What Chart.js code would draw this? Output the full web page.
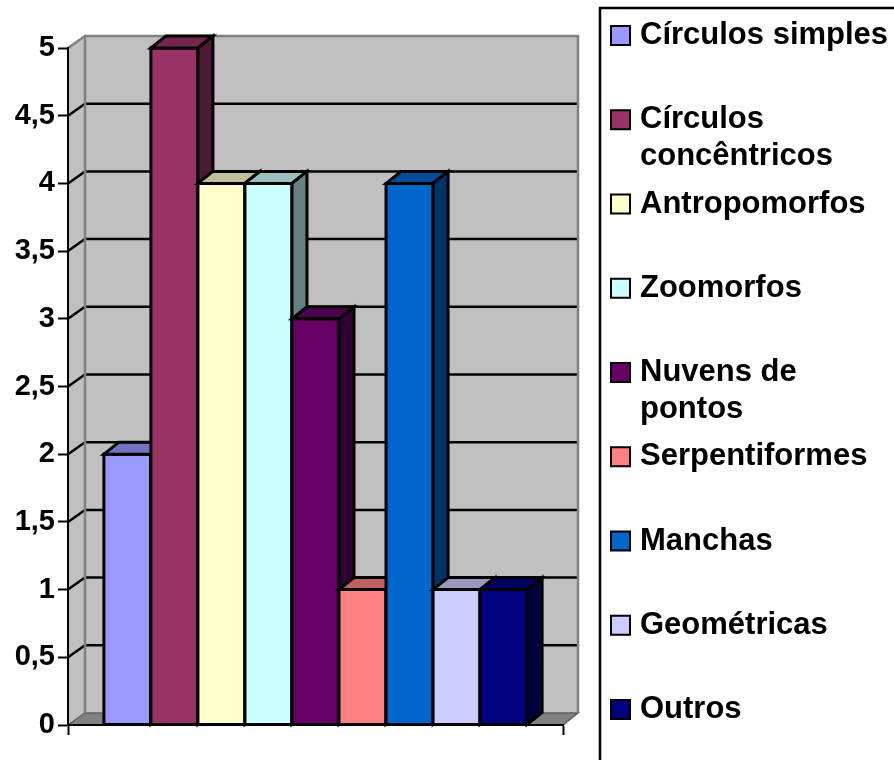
<!DOCTYPE html>
<html>
<head>
<meta charset="utf-8">
<script src="https://cdn.jsdelivr.net/npm/chart.js@4"></script>
<style>
  html, body { margin: 0; padding: 0; background: #fff; overflow: hidden; }
  #wrap { position: relative; width: 894px; height: 760px; }
</style>
</head>
<body>
<div id="wrap"><canvas id="chart"></canvas></div>
<script>
// series names, values and colours
const categories = ['Círculos simples', 'Círculos concêntricos', 'Antropomorfos', 'Zoomorfos',
    'Nuvens de pontos', 'Serpentiformes', 'Manchas', 'Geométricas', 'Outros'];
const counts = [2, 5, 4, 4, 3, 1, 4, 1, 1];
const colors = ['#9999FF', '#993366', '#FFFFCC', '#CCFFFF', '#660066', '#FF8080', '#0066CC', '#CCCCFF', '#000080'];
const yMin = 0;
const yMax = 5;
const yStep = 0.5;

const FONT = '"Liberation Sans", Arial, Helvetica, sans-serif';
Chart.defaults.font.family = FONT;

// 3d offsets
const wallDxL = 17, wallDxR = 15, wallDy = -12;
const barDx = 15, barDy = -12;

function shade(hex, f) {
    const n = parseInt(hex.slice(1), 16);
    const r = Math.round(((n >> 16) & 255) * f);
    const g = Math.round(((n >> 8) & 255) * f);
    const b = Math.round((n & 255) * f);
    return 'rgb(' + r + ',' + g + ',' + b + ')';
}

function poly(ctx, pts, fill, stroke, lw) {
    ctx.beginPath();
    ctx.moveTo(pts[0][0], pts[0][1]);
    for (let i = 1; i < pts.length; i++) ctx.lineTo(pts[i][0], pts[i][1]);
    ctx.closePath();
    if (fill) { ctx.fillStyle = fill; ctx.fill(); }
    if (stroke) { ctx.strokeStyle = stroke; ctx.lineWidth = lw; ctx.stroke(); }
}

const wallsPlugin = {
    id: 'walls',
    beforeDraw(chart) {
        const ctx = chart.ctx;
        const { left, right, top, bottom } = chart.chartArea;
        const ys = chart.scales.y;
        const bl = left + wallDxL, br = right + wallDxR;
        ctx.save();
        // side wall, back wall, floor
        poly(ctx, [[left, top], [bl, top + wallDy], [bl, bottom + wallDy], [left, bottom]], '#C0C0C0');
        ctx.fillStyle = '#C0C0C0';
        ctx.fillRect(bl, top + wallDy, br - bl, bottom - top);
        poly(ctx, [[left, bottom], [right, bottom], [br, bottom + wallDy], [bl, bottom + wallDy]], '#808080', '#606060', 1.5);
        // gridlines on the walls
        ctx.strokeStyle = '#000';
        ctx.lineWidth = 2.5;
        for (let v = yMin + yStep; v < yMax - 1e-9; v += yStep) {
            const y = ys.getPixelForValue(v);
            ctx.beginPath();
            ctx.moveTo(left, y);
            ctx.lineTo(bl, y + wallDy);
            ctx.lineTo(br, y + wallDy);
            ctx.stroke();
        }
        // grey edges
        ctx.strokeStyle = '#808080';
        ctx.lineWidth = 2.5;
        ctx.beginPath();
        ctx.moveTo(left, top);
        ctx.lineTo(bl, top + wallDy);
        ctx.lineTo(br, top + wallDy);
        ctx.lineTo(br, bottom + wallDy);
        ctx.moveTo(bl, top + wallDy);
        ctx.lineTo(bl, bottom + wallDy);
        ctx.stroke();
        ctx.restore();
    }
};

const barsPlugin = {
    id: 'bars3d',
    afterDatasetsDraw(chart) {
        const ctx = chart.ctx;
        ctx.save();
        ctx.lineJoin = 'miter';
        chart.data.datasets.forEach((ds, i) => {
            const el = chart.getDatasetMeta(i).data[0];
            const { x, y, base, width } = el.getProps(['x', 'y', 'base', 'width'], true);
            const x0 = x - width / 2, x1 = x + width / 2;
            const c = ds.backgroundColor;
            poly(ctx, [[x0, y], [x1, y], [x1, base], [x0, base]], c, '#000', 3);
            poly(ctx, [[x0, y], [x0 + barDx, y + barDy], [x1 + barDx, y + barDy], [x1, y]], shade(c, 0.75), '#000', 3);
            poly(ctx, [[x1, y], [x1 + barDx, y + barDy], [x1 + barDx, base + barDy], [x1, base]], shade(c, 0.5), '#000', 3);
        });
        ctx.restore();
    }
};

function wrapLabel(ctx, text, maxW) {
    const words = text.split(' ');
    const lines = [];
    let cur = '';
    words.forEach(w => {
        const t = cur ? cur + ' ' + w : w;
        if (cur && ctx.measureText(t).width > maxW) {
            lines.push(cur);
            cur = w;
        } else {
            cur = t;
        }
    });
    lines.push(cur);
    return lines;
}

const legendPlugin = {
    id: 'sideLegend',
    afterDraw(chart) {
        const ctx = chart.ctx;
        ctx.save();
        ctx.strokeStyle = '#000';
        ctx.lineWidth = 2.5;
        ctx.strokeRect(600, 8, 400, 800);
        ctx.font = 'bold 31px ' + FONT;
        ctx.textAlign = 'left';
        ctx.textBaseline = 'alphabetic';
        chart.data.datasets.forEach((ds, i) => {
            const baseY = 44 + 84.25 * i;
            ctx.fillStyle = ds.backgroundColor;
            ctx.fillRect(611, baseY - 18, 19, 19);
            ctx.lineWidth = 2;
            ctx.strokeRect(611, baseY - 18, 19, 19);
            ctx.fillStyle = '#000';
            const lines = wrapLabel(ctx, ds.label, 257);
            lines.forEach((ln, k) => ctx.fillText(ln, 640, baseY + 37 * k));
        });
        ctx.restore();
    }
};

const ctx = document.getElementById('chart').getContext('2d');
new Chart(ctx, {
    type: 'bar',
    data: {
        labels: [''],
        datasets: categories.map((name, i) => ({
            label: name,
            data: [counts[i]],
            backgroundColor: colors[i],
            borderWidth: 0,
            categoryPercentage: 0.855,
            barPercentage: 1.0
        }))
    },
    options: {
        responsive: true,
        maintainAspectRatio: false,
        animation: false,
        layout: { padding: { top: 48, right: 331, bottom: 0, left: 0 } },
        plugins: {
            legend: { display: false },
            tooltip: { enabled: false }
        },
        scales: {
            x: {
                ticks: { display: false },
                grid: { drawOnChartArea: false, tickLength: 10, tickColor: '#000', tickWidth: 2 },
                border: { color: '#000', width: 2 },
                afterFit(scale) { scale.height = 35; }
            },
            y: {
                min: yMin,
                max: yMax,
                ticks: {
                    stepSize: yStep,
                    color: '#000',
                    padding: 3,
                    font: { size: 29, weight: 'bold' },
                    callback: v => String(v).replace('.', ',')
                },
                grid: { drawOnChartArea: false, tickLength: 10, tickColor: '#000', tickWidth: 2 },
                border: { color: '#000', width: 2 },
                afterFit(scale) { scale.width = 68; }
            }
        }
    },
    plugins: [wallsPlugin, barsPlugin, legendPlugin]
});
</script>
</body>
</html>
